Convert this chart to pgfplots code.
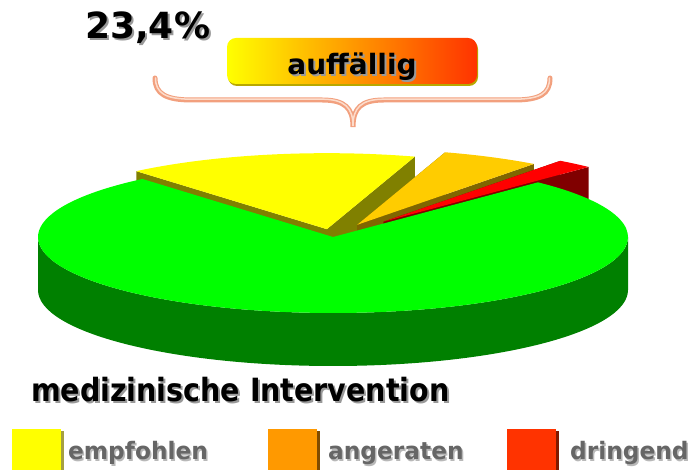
\documentclass[border=0pt]{standalone}
\usepackage{pgfplots}
\pgfplotsset{compat=1.18}
\usepackage{pgfplotstable}
\usepackage{fontspec}
\setmainfont{DejaVu Sans}
\usepackage{graphicx}

\definecolor{gtop}{HTML}{00FF00}
\definecolor{gside}{HTML}{008000}
\definecolor{ytop}{HTML}{FFFF00}
\definecolor{yside}{HTML}{808000}
\definecolor{otop}{HTML}{FFCC00}
\definecolor{oside}{HTML}{806600}
\definecolor{rtop}{HTML}{FF0000}
\definecolor{rside}{HTML}{800000}
\definecolor{legY}{HTML}{FFFF00}
\definecolor{legO}{HTML}{FF9900}
\definecolor{legR}{HTML}{FF3300}
\definecolor{bracec}{HTML}{F2A07E}
\definecolor{bracehi}{HTML}{FCDCCB}
\definecolor{labgray}{HTML}{666666}
\definecolor{boxmid}{HTML}{FFA000}
\definecolor{boxright}{HTML}{FF3300}
\definecolor{boxshadow}{HTML}{B8A800}

% percentages (sum 100), explode = offset as fraction of radius
\pgfplotstableread{
label value explode
dringend 2.0 0.265
angeraten 5.4 0.18
empfohlen 16.0 0.105
unauffaellig 76.6 0
}\piedata

\newcommand\getv[3]{\pgfplotstablegetelem{#1}{#2}\of\piedata\let#3\pgfplotsretval}

% pie geometry (axis units = pt)
\def\cx{333}\def\cy{233}\def\rx{295}\def\ry{76}\def\dep{53}

\newcommand\slice[5]{%
  \pgfmathsetmacro\md{(#1+#2)/2}%
  \pgfmathsetmacro\ox{\cx+#3*\rx*cos(\md)}%
  \pgfmathsetmacro\oy{\cy+#3*\ry*sin(\md)}%
  \pgfmathsetmacro\oyd{\oy-\dep}%
  \pgfmathsetmacro\ax{\ox+\rx*cos(#1)}%
  \pgfmathsetmacro\ay{\oy+\ry*sin(#1)}%
  \pgfmathsetmacro\ayd{\ay-\dep}%
  \pgfmathsetmacro\bx{\ox+\rx*cos(#2)}%
  \pgfmathsetmacro\by{\oy+\ry*sin(#2)}%
  \pgfmathsetmacro\byd{\by-\dep}%
  \fill[#5] (axis cs:\ox,\oy) -- (axis cs:\bx,\by) -- (axis cs:\bx,\byd) -- (axis cs:\ox,\oyd) -- cycle;
  \fill[#5] (axis cs:\ox,\oy) -- (axis cs:\ax,\ay) -- (axis cs:\ax,\ayd) -- (axis cs:\ox,\oyd) -- cycle;
  \fill[#4] (axis cs:\ox,\oy) -- (axis cs:\ax,\ay) arc[start angle=#1,end angle=#2,x radius=\rx pt,y radius=\ry pt] -- cycle;
}

\newcommand\shtext[5]{% x y anchor font text (black with gray shadow)
  \node[anchor=#3,inner sep=0pt,text=black!40,font=#4] at ([xshift=2pt,yshift=-2pt]axis cs:#1,#2) {#5};
  \node[anchor=#3,inner sep=0pt,text=black,font=#4] at (axis cs:#1,#2) {#5};
}
\newcommand\legtext[3]{%
  \node[anchor=base west,inner sep=0pt,text=black!28,font=\fontsize{24}{28}\selectfont\bfseries] at ([xshift=1.5pt,yshift=-1.5pt]axis cs:#1,#2) {\scalebox{0.97}[1]{#3}};
  \node[anchor=base west,inner sep=0pt,text=labgray,font=\fontsize{24}{28}\selectfont\bfseries] at (axis cs:#1,#2) {\scalebox{0.97}[1]{#3}};
}

\begin{document}%
\begin{tikzpicture}
\getv{0}{value}\vR
\getv{1}{value}\vO
\getv{2}{value}\vY
\getv{3}{value}\vG
\getv{0}{explode}\kR
\getv{1}{explode}\kO
\getv{2}{explode}\kY
\pgfmathsetmacro\aS{46}
\pgfmathsetmacro\aR{\aS+3.6*\vR}
\pgfmathsetmacro\aO{\aR+3.6*\vO}
\pgfmathsetmacro\aY{\aO+3.6*\vY}
\pgfmathsetmacro\aG{\aY+3.6*\vG}
\begin{axis}[width=693pt,height=470pt,scale only axis,
  xmin=0,xmax=693,ymin=0,ymax=470,hide axis,clip=false]
\path (axis cs:0,0) rectangle (axis cs:693,470);
\pgfplotsextra{%
  % exploded slices (behind)
  \slice{\aO}{\aY}{\kY}{ytop}{yside}
  \slice{\aR}{\aO}{\kO}{otop}{oside}
  \slice{\aS}{\aR}{\kR}{rtop}{rside}
  % green body: side
  \pgfmathsetmacro\lx{\cx-\rx}%
  \fill[gside] (axis cs:\lx,\cy) arc[start angle=180,end angle=360,x radius=\rx pt,y radius=\ry pt]
     -- ++(0,-\dep pt) arc[start angle=360,end angle=180,x radius=\rx pt,y radius=\ry pt] -- cycle;
  % green top
  \pgfmathsetmacro\gx{\cx+\rx*cos(\aY)}%
  \pgfmathsetmacro\gy{\cy+\ry*sin(\aY)}%
  \fill[gtop] (axis cs:\cx,\cy) -- (axis cs:\gx,\gy) arc[start angle=\aY,end angle=\aG,x radius=\rx pt,y radius=\ry pt] -- cycle;
}
% brace
\draw[bracec,line width=5pt,line cap=round]
  (axis cs:155,392) .. controls (axis cs:155,376) and (axis cs:166,370) .. (axis cs:192,370)
  -- (axis cs:322,370) .. controls (axis cs:345,370) and (axis cs:353,362) .. (axis cs:353,343)
  .. controls (axis cs:353,362) and (axis cs:361,370) .. (axis cs:384,370)
  -- (axis cs:514,370) .. controls (axis cs:540,370) and (axis cs:550,376) .. (axis cs:550,392);
\draw[bracehi,line width=1.5pt,line cap=round]
  (axis cs:155.5,392) .. controls (axis cs:155.5,376.5) and (axis cs:166,370.8) .. (axis cs:192,370.8)
  -- (axis cs:322,370.8) .. controls (axis cs:345,370.8) and (axis cs:353,362) .. (axis cs:353,344)
  .. controls (axis cs:353,362) and (axis cs:361,370.8) .. (axis cs:384,370.8)
  -- (axis cs:514,370.8) .. controls (axis cs:540,370.8) and (axis cs:549.5,376.5) .. (axis cs:549.5,392);
% box
\fill[boxshadow,rounded corners=9pt] (axis cs:228,384) rectangle (axis cs:478,430);
\shade[left color=ytop,middle color=boxmid,right color=boxright,rounded corners=9pt]
  (axis cs:227,386) rectangle (axis cs:477,432);
\shtext{352}{395}{base}{\fontsize{28}{32}\selectfont\bfseries}{auffällig}
\shtext{85}{431}{base west}{\fontsize{36}{40}\selectfont\bfseries}{23,4\%}
\shtext{31}{68}{base west}{\fontsize{32}{36}\selectfont\bfseries}{\scalebox{0.89}[1]{medizinische Intervention}}
% legend
\fill[yellow!60!black] (axis cs:15,0) rectangle (axis cs:64,39);
\fill[legY] (axis cs:12,0) rectangle (axis cs:61,41);
\fill[legO!50!black] (axis cs:271,0) rectangle (axis cs:320,39);
\fill[legO] (axis cs:268,0) rectangle (axis cs:317,41);
\fill[legR!50!black] (axis cs:510,0) rectangle (axis cs:559,39);
\fill[legR] (axis cs:507,0) rectangle (axis cs:556,41);
\legtext{68}{10}{empfohlen}
\legtext{328}{10}{angeraten}
\legtext{570}{10}{dringend}
\end{axis}
\end{tikzpicture}%
\end{document}
